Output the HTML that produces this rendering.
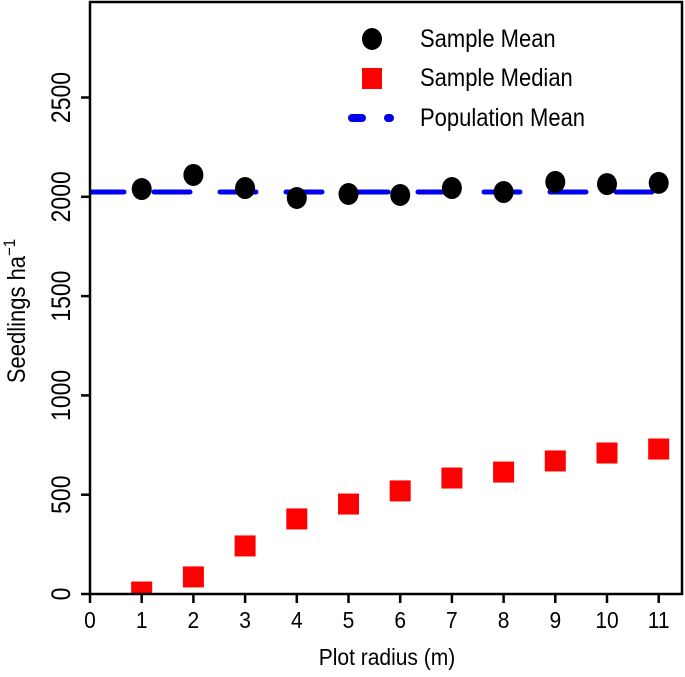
<!DOCTYPE html>
<html><head><meta charset="utf-8"><style>
body{margin:0;background:#fff}
svg text{font-family:"Liberation Sans",sans-serif;fill:#000}
</style></head><body>
<svg width="685" height="672" viewBox="0 0 685 672">
<g id="plot"></g>
</svg>
<script>
const radii=[1,2,3,4,5,6,7,8,9,10,11];
const meanVals=[2039,2110,2044,1994,2014,2009,2044,2024,2075,2064,2070];
const medianVals=[10,86,242,378,453,519,584,614,670,710,730];
const popMean=2024;
const xTicks=[0,1,2,3,4,5,6,7,8,9,10,11];
const yTicks=[0,500,1000,1500,2000,2500];
const L=90,R=682,T=2,B=594;
const X=v=>L+v*51.7, Y=v=>B-v*0.1986;
const ns='http://www.w3.org/2000/svg', g=document.getElementById('plot');
function mk(t,a,txt){const e=document.createElementNS(ns,t);for(const k in a)e.setAttribute(k,a[k]);if(txt!=null)e.textContent=txt;g.appendChild(e);return e;}
const cp=mk('clipPath',{id:'c'});const cr=document.createElementNS(ns,'rect');cp.appendChild(cr);
cr.setAttribute('x',L);cr.setAttribute('y',T);cr.setAttribute('width',R-L);cr.setAttribute('height',B-T);
let e=mk('line',{x1:L-4,x2:R,y1:Y(popMean),y2:Y(popMean),stroke:'#0000ee','stroke-width':5,'stroke-linecap':'round','stroke-dasharray':'36 30','stroke-dashoffset':'-2','clip-path':'url(#c)'});

radii.forEach((r,i)=>{
 let c=mk('ellipse',{cx:X(r),cy:Y(meanVals[i]),rx:10,ry:11,fill:'#000'});
 
 let s=mk('rect',{x:X(r)-10.5,y:Y(medianVals[i])-10.5,width:21,height:21,fill:'#ff0000','clip-path':'url(#c)'});
 
});
e=mk('rect',{x:L,y:T,width:R-L,height:B-T,fill:'none',stroke:'#000','stroke-width':2.5});

xTicks.forEach(t=>{
 let l=mk('line',{x1:X(t),x2:X(t),y1:B,y2:B+9,stroke:'#000','stroke-width':2.5});
 
 let tx=mk('text',{x:0,y:0,'text-anchor':'middle','font-size':21,transform:`translate(${X(t)},${B+34}) scale(1,1.1)`},t);
 
});
yTicks.forEach(t=>{
 let l=mk('line',{x1:L-9,x2:L,y1:Y(t),y2:Y(t),stroke:'#000','stroke-width':2.5});
 
 let tx=mk('text',{x:0,y:0,'text-anchor':'middle','font-size':23,transform:`translate(${L-20},${Y(t)}) rotate(-90) scale(1,1.15)`},t);
 
});
e=mk('text',{x:0,y:0,'text-anchor':'middle','font-size':21,transform:'translate(387,665) scale(1,1.12)'},'Plot radius (m)');

e=mk('text',{x:0,y:0,'text-anchor':'middle','font-size':22,transform:'translate(25,311) rotate(-90) scale(1,1.12)'});
e.innerHTML='Seedlings ha<tspan dy="-9" font-size="15">−1</tspan>';

e=mk('ellipse',{cx:372,cy:39,rx:10,ry:11,fill:'#000'});
e=mk('rect',{x:362,y:68,width:20,height:21,fill:'#ff0000'});
e=mk('line',{x1:352,x2:362,y1:118,y2:118,stroke:'#0000ee','stroke-width':8,'stroke-linecap':'round'});
e=mk('line',{x1:388,x2:390,y1:118,y2:118,stroke:'#0000ee','stroke-width':8,'stroke-linecap':'round'});
[['Sample Mean',47],['Sample Median',86],['Population Mean',126]].forEach(([s,y])=>{
 let t=mk('text',{x:0,y:0,'font-size':22,transform:`translate(420,${y}) scale(1,1.12)`},s);
 
});
</script>
</body></html>
